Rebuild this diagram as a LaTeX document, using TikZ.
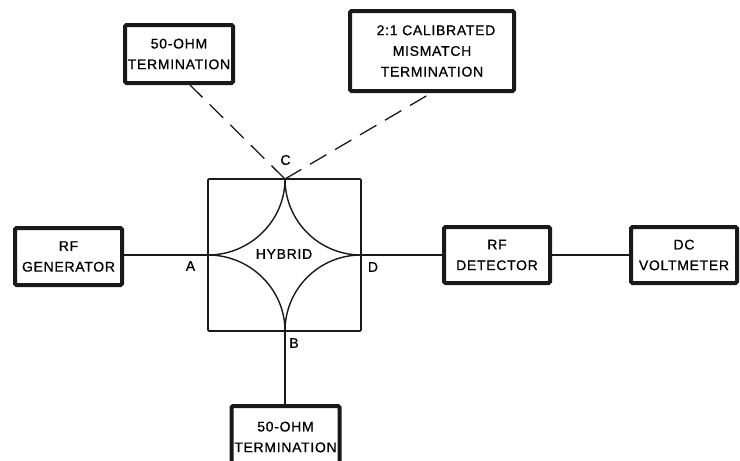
\documentclass[tikz,border=0pt]{standalone}
\usepackage{fontspec}
\newfontfamily\diagfont[LetterSpace=5,FakeBold=0.7]{Liberation Sans}
\begin{document}
\begin{tikzpicture}[x=1pt,y=-1pt,
  lab/.style={font=\diagfont\fontsize{14}{19}\selectfont,inner sep=0pt,text=black},
  unit/.style={draw=black!90,line width=4pt,rounded corners=1.5pt,fill=white,inner sep=0pt,align=center,font=\diagfont\fontsize{14}{20.7}\selectfont,text=black},
  wire/.style={draw=black!90,line width=1.4pt},
  dashwire/.style={draw=black!90,line width=1.3pt,dash pattern=on 19pt off 10pt}]
\useasboundingbox (0,0) rectangle (740,461);
\clip (0,0) rectangle (740,461);
\node[draw=black!90,line width=1.6pt,rounded corners=1pt,minimum width=153pt,minimum height=152pt,inner sep=0pt] (hyb) at (284.5,255) {};
\coordinate (pC) at (285,179);
\coordinate (pA) at (208,255);
\coordinate (pB) at (285,331);
\coordinate (pD) at (361,255);
\node[unit,minimum width=108pt,minimum height=58pt] (t1) at (179,54) {50-OHM\\TERMINATION};
\node[unit,minimum width=164pt,minimum height=80pt] (t2) at (432,51) {\hspace*{8pt}2:1 CALIBRATED\\MISMATCH\\TERMINATION};
\node[unit,minimum width=107pt,minimum height=57pt] (gen) at (68.5,256.5) {RF\\GENERATOR};
\node[unit,minimum width=106pt,minimum height=56pt] (det) at (497,255) {RF\\DETECTOR};
\node[unit,minimum width=106pt,minimum height=56pt] (dc) at (684,255) {DC\\VOLTMETER};
\node[unit,minimum width=108pt,minimum height=62pt] (t3) at (285.5,437) {50-OHM\\TERMINATION};
\node[lab] (hl) at (284,254) {HYBRID};
\node[lab] (lA) at (190.5,266) {A};
\node[lab] (lB) at (294,343) {B};
\node[lab] (lC) at (285.5,160) {C};
\node[lab] (lD) at (373,267) {D};
\draw[wire] (gen.east |- pA) -- (pA);
\draw[wire] (pD) -- (det.west |- pD);
\draw[wire] (det.east |- pD) -- (dc.west |- pD);
\draw[wire] (pB) -- (t3.north -| pB);
\draw[wire] (pC) .. controls (285,221) and (250,255) .. (pA);
\draw[wire] (pC) .. controls (285,221) and (319,255) .. (pD);
\draw[wire] (pB) .. controls (285,289) and (250,255) .. (pA);
\draw[wire] (pB) .. controls (285,289) and (319,255) .. (pD);
\coordinate (d1) at (190,85);
\coordinate (d2) at (433,92);
\draw[dashwire] (pC) -- (d1);
\draw[dashwire] (pC) -- (d2);
\end{tikzpicture}
\end{document}
